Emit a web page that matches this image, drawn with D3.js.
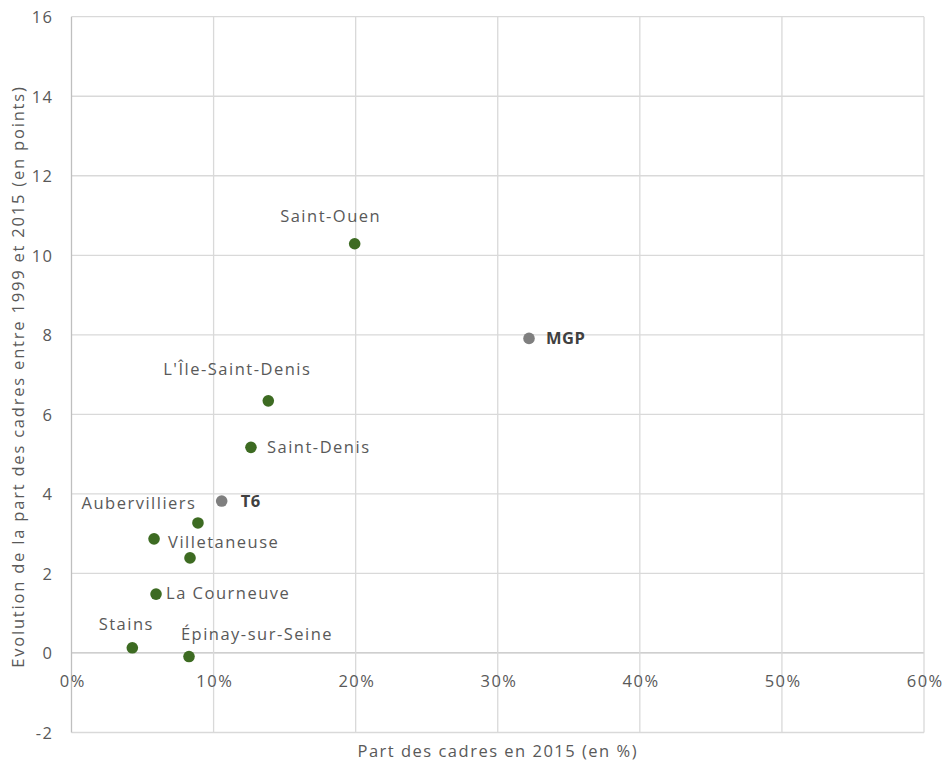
<!DOCTYPE html>
<html>
<head>
<meta charset="utf-8">
<script src="https://cdn.jsdelivr.net/npm/d3@7/dist/d3.min.js"></script>
<style>
  html, body { margin: 0; padding: 0; background: #ffffff; }
  svg { display: block; font-family: "Open Sans", "Noto Sans", sans-serif; }
  svg text { letter-spacing: 1.5px; }
</style>
</head>
<body>
<script>
// ---- Data ----
const communes = ["Saint-Ouen", "MGP", "L'Île-Saint-Denis", "Saint-Denis", "T6", "Aubervilliers", "Villetaneuse", "Pierrefitte-sur-Seine", "La Courneuve", "Stains", "Épinay-sur-Seine"];
const partCadres2015 = [19.93, 32.2, 13.85, 12.63, 10.57, 8.90, 5.81, 8.34, 5.95, 4.28, 8.27];
const evolution1999_2015 = [10.29, 7.91, 6.34, 5.17, 3.82, 3.27, 2.87, 2.39, 1.48, 0.13, -0.09];
const pointLabels = ["Saint-Ouen", "MGP", "L'Île-Saint-Denis", "Saint-Denis", "T6", "Aubervilliers", "Villetaneuse", "", "La Courneuve", "Stains", "Épinay-sur-Seine"];
const isAggregate = [false, true, false, false, true, false, false, false, false, false, false];
const xTicks = [0, 10, 20, 30, 40, 50, 60];
const yTicks = [-2, 0, 2, 4, 6, 8, 10, 12, 14, 16];
const xTitle = "Part des cadres en 2015 (en %)";
const yTitle = "Evolution de la part des cadres entre 1999 et 2015 (en points)";

// ---- Label placement (style) ----
const labelPlacement = {
  "Saint-Ouen": { dx: -24, dy: -28, anchor: "middle" },
  "MGP": { dx: 17, dy: 0, anchor: "start" },
  "L'Île-Saint-Denis": { dx: -31, dy: -32, anchor: "middle" },
  "Saint-Denis": { dx: 16, dy: 0, anchor: "start" },
  "T6": { dx: 19, dy: 0, anchor: "start" },
  "Aubervilliers": { dx: -59, dy: -20, anchor: "middle" },
  "Villetaneuse": { dx: 14, dy: 3, anchor: "start" },
  "La Courneuve": { dx: 10, dy: -1, anchor: "start" },
  "Stains": { dx: -6, dy: -24, anchor: "middle" },
  "Épinay-sur-Seine": { dx: 68, dy: -22, anchor: "middle" }
};

const W = 943, H = 763;
const svg = d3.select("body").append("svg").attr("width", W).attr("height", H);

const x = d3.scaleLinear().domain([0, 60]).range([71.5, 924]);
const y = d3.scaleLinear().domain([-2, 16]).range([732.5, 16.7]);

const textColor = "#595959";
const gridColor = "#d9d9d9";
const axisColor = "#bfbfbf";
const green = "#3d6b22";
const grey = "#7f7f7f";
const fs = 16.5;

// gridlines
svg.append("g").selectAll("line").data(yTicks).join("line")
  .attr("x1", x(0)).attr("x2", x(60))
  .attr("y1", d => y(d)).attr("y2", d => y(d))
  .attr("stroke", d => d === 0 ? axisColor : gridColor).attr("stroke-width", 1.3);
svg.append("g").selectAll("line").data(xTicks).join("line")
  .attr("x1", d => x(d)).attr("x2", d => x(d))
  .attr("y1", y(-2)).attr("y2", y(16))
  .attr("stroke", d => d === 0 ? axisColor : gridColor).attr("stroke-width", 1.3);

// axes via d3 (labels only)
const xAxis = d3.axisBottom(x).tickValues(xTicks).tickFormat(d => d + "%").tickSize(0).tickPadding(0);
const gx = svg.append("g").attr("transform", `translate(0,${y(0)})`).call(xAxis);
gx.select(".domain").remove();
gx.selectAll("text").attr("y", 34).attr("dy", 0).attr("dx", 0.75).attr("fill", textColor)
  .style("font-size", fs + "px").style("font-family", "'Open Sans', 'Noto Sans', sans-serif");

const yAxis = d3.axisLeft(y).tickValues(yTicks).tickFormat(d => String(d)).tickSize(0).tickPadding(0);
const gy = svg.append("g").attr("transform", `translate(${x(0)},0)`).call(yAxis);
gy.select(".domain").remove();
gy.selectAll("text").attr("x", -18).attr("dy", "0.36em").attr("fill", textColor)
  .style("font-size", fs + "px").style("font-family", "'Open Sans', 'Noto Sans', sans-serif");

// axis titles
svg.append("text").attr("x", (x(0) + x(60)) / 2).attr("y", 757)
  .attr("text-anchor", "middle").attr("fill", textColor).style("font-size", fs + "px").text(xTitle);
svg.append("text").attr("transform", `translate(23.5,${(y(-2) + y(16)) / 2 + 2}) rotate(-90)`)
  .attr("text-anchor", "middle").attr("fill", textColor).style("font-size", fs + "px")
  .style("letter-spacing", "1.8px").text(yTitle);

// points
const pts = communes.map((c, i) => ({ c, x: partCadres2015[i], y: evolution1999_2015[i], label: pointLabels[i], agg: isAggregate[i] }));
svg.append("g").selectAll("circle").data(pts).join("circle")
  .attr("cx", d => x(d.x)).attr("cy", d => y(d.y)).attr("r", 5.8)
  .attr("fill", d => d.agg ? grey : green);

// labels
svg.append("g").selectAll("text").data(pts.filter(d => d.label)).join("text")
  .attr("x", d => x(d.x) + labelPlacement[d.label].dx)
  .attr("y", d => y(d.y) + labelPlacement[d.label].dy)
  .attr("dy", "0.36em")
  .attr("text-anchor", d => labelPlacement[d.label].anchor)
  .attr("fill", d => d.agg ? "#404040" : textColor)
  .style("font-weight", d => d.agg ? "bold" : "normal")
  .style("letter-spacing", d => d.agg ? "0.5px" : null)
  .style("font-size", fs + "px")
  .text(d => d.label);
</script>
</body>
</html>
